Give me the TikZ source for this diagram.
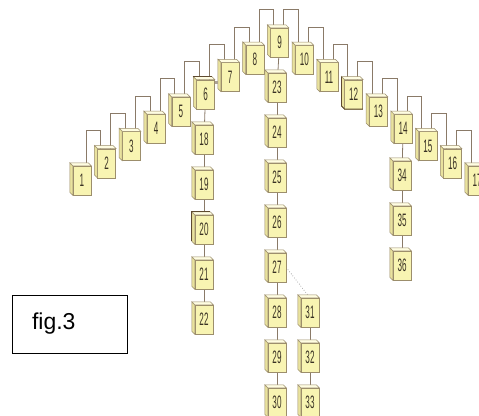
\documentclass[tikz,border=0pt]{standalone}
\usepackage{fontspec}
\setmainfont{Liberation Sans}
\usetikzlibrary{calc, backgrounds}
\definecolor{unitFront}{HTML}{F8F4B2}
\definecolor{unitTop}{HTML}{FFFDE2}
\definecolor{unitSide}{HTML}{E9E29E}
\definecolor{unitEdge}{HTML}{9C8E6C}
\definecolor{unitMark}{HTML}{5E4A30}
\definecolor{unitInk}{HTML}{3A3224}
\definecolor{linkBrown}{HTML}{8A7A68}
\definecolor{linkGrey}{HTML}{6E6E6E}
\newcommand{\unitlabel}[1]{\scalebox{0.45}[1]{#1}}

\begin{document}
\begin{tikzpicture}[
    x=1pt, y=-1pt,
    unit/.style={
        draw=unitEdge,
        fill=unitFront,
        line width=0.5pt,
        minimum width=18pt,
        minimum height=29pt,
        inner sep=0pt,
        font=\fontsize{18}{18}\selectfont,
        text=unitInk
    },
    topface/.style={draw=unitEdge, fill=unitTop, line width=0.5pt},
    sideface/.style={draw=unitEdge, fill=unitSide, line width=0.5pt},
    markedge/.style={draw=unitMark, line width=0.8pt},
    link/.style={draw=linkBrown, line width=0.8pt},
    dotlink/.style={draw=linkGrey, line width=0.6pt, dotted},
    figbox/.style={
        draw=black,
        line width=1pt,
        minimum height=58pt,
        text width=75pt,
        inner xsep=20pt,
        align=left,
        font=\fontsize{23}{23}\selectfont
    }
]
\clip (0,0) rectangle (479,415);

% Arch of units 1-17
\foreach \i in {1,...,17} {
    \pgfmathsetmacro{\ux}{82+(\i-1)*24.7}
    \pgfmathsetmacro{\uy}{42.5+abs(\i-9)*17.25}
    \node[unit] (n\i) at (\ux,\uy) {\unitlabel{\i}};
}

% Columns hanging below the arch
\foreach \i [count=\k] in {18,...,22} {
    \node[unit] (n\i) at (204,94.5+\k*45) {\unitlabel{\i}};
}
\foreach \i [count=\k] in {23,...,30} {
    \node[unit] (n\i) at (277,42.5+\k*45) {\unitlabel{\i}};
}
\foreach \i [count=\k] in {31,...,33} {
    \node[unit] (n\i) at (310,267.5+\k*45) {\unitlabel{\i}};
}
\foreach \i [count=\k] in {34,...,36} {
    \node[unit] (n\i) at (402,130.5+\k*45) {\unitlabel{\i}};
}

% 3D faces of every unit
\foreach \i in {1,...,36} {
    \filldraw[sideface] (n\i.north west) -- ++(-3,-3)
        -- ($(n\i.south west)+(-3,-3)$) -- (n\i.south west) -- cycle;
    \filldraw[topface] (n\i.north west) -- ++(-3,-3)
        -- ($(n\i.north east)+(-3,-3)$) -- (n\i.north east) -- cycle;
}

% darker rims on 6, 12 and 20
\draw[markedge] ($(n6.north west)+(-3,-3)$) -- ($(n6.north east)+(-3,-3)$);
\draw[markedge] ($(n12.north west)+(-3,-3)$) -- ($(n12.south west)+(-3,-3)$)
    -- (n12.south west) -- (n12.south east);
\draw[markedge] ($(n20.south west)+(-3,-3)$) -- ($(n20.north west)+(-3,-3)$)
    -- ($(n20.north east)+(-3,-3)$);

% small port between 6 and 7
\fill[linkBrown!70] ($(n6.north east)+(0,1)$) rectangle ++(3,3);

% Connectors
\begin{scope}[on background layer]
    % rising side of the arch
    \foreach \i [evaluate=\i as \j using int(\i+1)] in {1,...,8} {
        \draw[link] ($(n\i.north)+(4,0)$) |- ($(n\j.north)+(-6,-18)$)
            -- ($(n\j.north)+(-6,0)$);
    }
    % falling side of the arch
    \foreach \i [evaluate=\i as \j using int(\i+1)] in {9,...,16} {
        \draw[link] ($(n\i.north)+(4,0)$) -- ($(n\i.north)+(4,-18)$)
            -| ($(n\j.north)+(-6,0)$);
    }
    % columns
    \foreach \a/\b in {6/18,18/19,19/20,20/21,21/22,
                       9/23,23/24,24/25,25/26,26/27,27/28,28/29,29/30,
                       31/32,32/33,14/34,34/35,35/36} {
        \draw[link] (n\a) -- (n\b);
    }
    \draw[dotlink] (n27.east) -- (n31.north);
\end{scope}

% Caption box
\node[figbox] (figlabel) at (69.5,324) {fig.3};

\end{tikzpicture}
\end{document}
